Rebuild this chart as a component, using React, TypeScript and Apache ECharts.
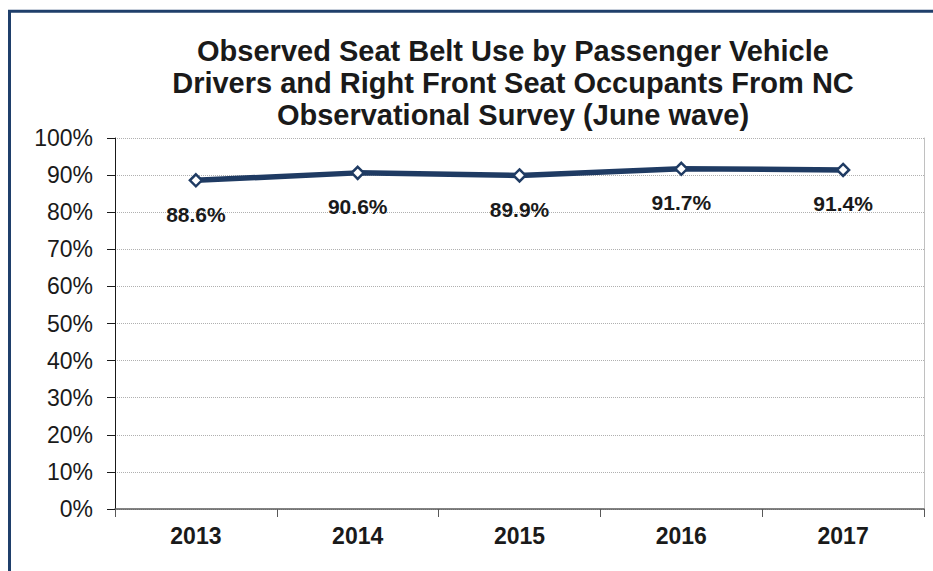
import React, { useEffect, useRef } from "react";
import * as echarts from "echarts";

const titleLines = [
  "Observed Seat Belt Use by Passenger Vehicle",
  "Drivers and Right Front Seat Occupants From NC",
  "Observational Survey (June wave)",
];
const years = ["2013", "2014", "2015", "2016", "2017"];
const beltUse = [88.6, 90.6, 89.9, 91.7, 91.4];

const FONT = "'Liberation Sans', Arial, sans-serif";
const NAVY = "#1f3b63";

export default function App() {
  const ref = useRef<HTMLDivElement>(null);
  useEffect(() => {
    document.body.style.margin = "0";
    const chart = echarts.init(ref.current!, null, { renderer: "svg" });
    chart.setOption({
      animation: false,
      backgroundColor: "#ffffff",
      title: {
        text: titleLines.join("\n"),
        left: 508,
        textAlign: "center",
        top: 30,
        textStyle: {
          fontFamily: FONT,
          fontSize: 29,
          fontWeight: "bold",
          color: "#1a1a1a",
          lineHeight: 32,
        },
      },
      graphic: [
        {
          type: "rect",
          shape: { x: 9.5, y: 11.3, width: 960, height: 620 },
          style: { fill: "none", stroke: "#1f3f6b", lineWidth: 3 },
          silent: true,
        },
      ],
      grid: { left: 115, right: 9, top: 138, bottom: 62 },
      xAxis: {
        type: "category",
        data: years,
        boundaryGap: true,
        axisLine: { lineStyle: { color: "#595959", width: 1.5 } },
        axisTick: { show: true, length: 8, lineStyle: { color: "#595959" } },
        axisLabel: {
          margin: 15,
          fontFamily: FONT,
          fontSize: 23,
          fontWeight: "bold",
          color: "#1a1a1a",
        },
      },
      yAxis: [
        {
          type: "value",
          min: 0,
          max: 100,
          interval: 10,
          axisLine: { show: true, lineStyle: { color: "#1a1a1a", width: 1 } },
          axisTick: { show: true, length: 8, lineStyle: { color: "#1a1a1a" } },
          axisLabel: {
            margin: 22,
            formatter: "{value}%",
            fontFamily: FONT,
            fontSize: 23,
            color: "#1a1a1a",
          },
          splitLine: {
            show: true,
            lineStyle: { color: "#b0b0b0", type: "dotted", width: 1 },
          },
        },
        {
          type: "value",
          min: 0,
          max: 100,
          interval: 10,
          position: "right",
          axisLine: { show: true, lineStyle: { color: "#c0c0c0", width: 1 } },
          axisTick: { show: false },
          axisLabel: { show: false },
          splitLine: { show: false },
        },
      ],
      series: [
        {
          type: "line",
          data: beltUse,
          yAxisIndex: 0,
          lineStyle: { color: NAVY, width: 5.5 },
          symbol: "diamond",
          symbolSize: 12,
          itemStyle: { color: "#ffffff", borderColor: NAVY, borderWidth: 2.5 },
          label: {
            show: true,
            position: "bottom",
            distance: 16,
            formatter: (p: any) => p.value.toFixed(1) + "%",
            fontFamily: FONT,
            fontSize: 21,
            fontWeight: "bold",
            color: "#1a1a1a",
          },
        },
      ],
    });
    return () => chart.dispose();
  }, []);
  return <div ref={ref} style={{ width: 933, height: 571 }} />;
}
